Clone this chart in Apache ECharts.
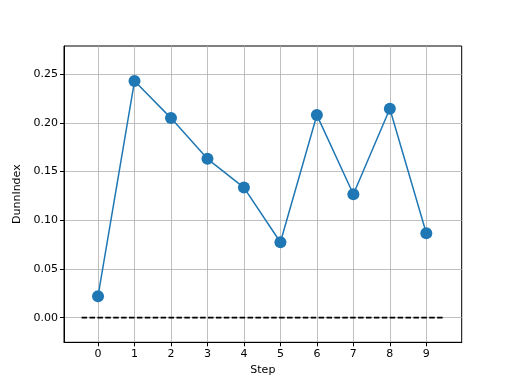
<!DOCTYPE html>
<html><head><meta charset="utf-8">
<script src="https://cdn.jsdelivr.net/npm/echarts@6/dist/echarts.min.js"></script>
<style>html,body{margin:0;padding:0;background:#fff}#c{width:512px;height:384px}</style>
</head><body><div id="c"></div>
<script>
const steps = [0,1,2,3,4,5,6,7,8,9];
const dunnIndex = [0.022,0.2428,0.2048,0.163,0.1335,0.0774,0.2079,0.1267,0.2144,0.0867];
const xTicks = [0,1,2,3,4,5,6,7,8,9];
const yTicks = [0,0.05,0.10,0.15,0.20,0.25];
const baselineX = [-0.45, 9.45];
const baselineY = 0;

const font = 'DejaVu Sans';
const chart = echarts.init(document.getElementById('c'), null, {renderer:'canvas'});
chart.setOption({
  animation:false,
  backgroundColor:'#fff',
  grid:{left:64,top:46,right:50.3,bottom:41.7,show:true,borderColor:'#000',borderWidth:1,containLabel:false},
  xAxis:{type:'value',min:-0.933,max:9.97,
    name:'Step',nameLocation:'middle',nameGap:20,
    nameTextStyle:{fontFamily:font,fontSize:11,color:'#000'},
    axisLine:{show:true,onZero:false,lineStyle:{color:'#000',width:1}},
    axisTick:{show:true,length:4,customValues:xTicks,lineStyle:{color:'#000'}},
    axisLabel:{customValues:xTicks,fontFamily:font,fontSize:11,color:'#000',margin:6,formatter:v=>String(v)},
    splitLine:{show:true,customValues:xTicks,lineStyle:{color:'#b0b0b0',width:0.8}}
  },
  yAxis:{type:'value',min:-0.0253,max:0.2788,
    name:'DunnIndex',nameLocation:'middle',nameGap:33,nameRotate:90,
    nameTextStyle:{fontFamily:font,fontSize:11,color:'#000'},
    axisLine:{show:true,onZero:false,lineStyle:{color:'#000',width:1}},
    axisTick:{show:true,length:4,customValues:yTicks,lineStyle:{color:'#000'}},
    axisLabel:{customValues:yTicks,fontFamily:font,fontSize:11,color:'#000',margin:6,formatter:v=>v.toFixed(2)},
    splitLine:{show:true,customValues:yTicks,lineStyle:{color:'#b0b0b0',width:0.8}}
  },
  series:[
    {type:'line',data:baselineX.map(x=>[x,baselineY]),symbol:'none',
     lineStyle:{color:'#000',width:1.6,type:[5.5,2.4]},z:2},
    {type:'line',data:steps.map((s,i)=>[s,dunnIndex[i]]),symbol:'circle',symbolSize:12,
     itemStyle:{color:'#1f77b4'},lineStyle:{color:'#1f77b4',width:1.5},z:3}
  ]
});
</script></body></html>
